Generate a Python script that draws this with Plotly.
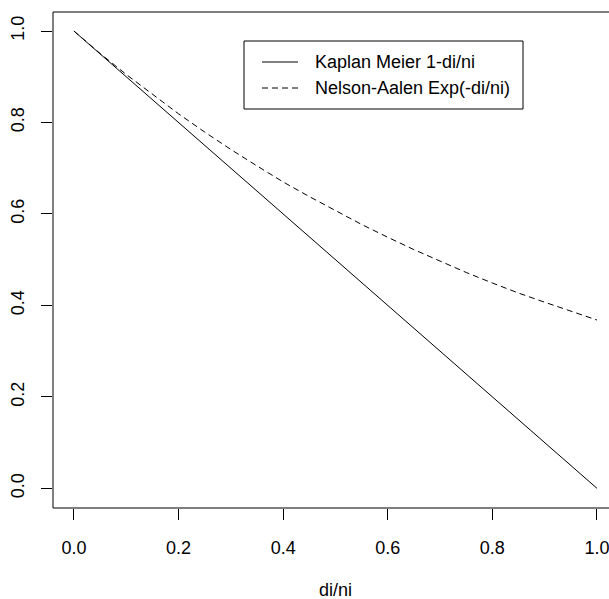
import plotly.graph_objects as go

# Proportion of deaths among those at risk
ratio = [0.00, 0.05, 0.10, 0.15, 0.20, 0.25, 0.30, 0.35, 0.40, 0.45, 0.50,
         0.55, 0.60, 0.65, 0.70, 0.75, 0.80, 0.85, 0.90, 0.95, 1.00]
# Kaplan-Meier factor 1 - di/ni
km = [1.00, 0.95, 0.90, 0.85, 0.80, 0.75, 0.70, 0.65, 0.60, 0.55, 0.50,
      0.45, 0.40, 0.35, 0.30, 0.25, 0.20, 0.15, 0.10, 0.05, 0.00]
# Nelson-Aalen factor exp(-di/ni)
na = [1.000, 0.951, 0.905, 0.861, 0.819, 0.779, 0.741, 0.705, 0.670, 0.638, 0.607,
      0.577, 0.549, 0.522, 0.497, 0.472, 0.449, 0.427, 0.407, 0.387, 0.368]
tick_vals = [0.0, 0.2, 0.4, 0.6, 0.8, 1.0]
tick_text = ["0.0", "0.2", "0.4", "0.6", "0.8", "1.0"]
legend_labels = ["Kaplan Meier 1-di/ni", "Nelson-Aalen Exp(-di/ni)"]

FONT = "Liberation Sans, Arial, sans-serif"
DASH = "6px,4px"
W, H = 609, 599
ML, MT, MB, MR = 53, 12, 91, 0

fig = go.Figure()
fig.add_trace(go.Scatter(x=ratio, y=km, mode="lines",
                         line=dict(color="black", width=1), showlegend=False))
fig.add_trace(go.Scatter(x=ratio, y=na, mode="lines",
                         line=dict(color="black", width=1, dash=DASH),
                         showlegend=False))

axis_common = dict(
    showgrid=False, zeroline=False, showline=False,
    ticks="outside", ticklen=11, tickwidth=1, tickcolor="black",
    tickfont=dict(family=FONT, size=18, color="black"),
    tickvals=tick_vals, ticktext=tick_text,
    ticklabeloverflow="allow",
)
fig.update_xaxes(range=[-0.04, (W - ML - 21.7) / 522.3], ticklabelstandoff=12,
                 **axis_common)
fig.update_yaxes(range=[-0.043, 1.0416], tickangle=-90, ticklabelstandoff=10,
                 **axis_common)

# Plot frame: left, bottom and top edges (right edge lies beyond the page)
frame = dict(type="line", xref="paper", yref="paper",
             line=dict(color="black", width=1))
shapes = [
    dict(frame, x0=0, x1=0, y0=0, y1=1),
    dict(frame, x0=0, x1=1, y0=0, y1=0),
    dict(frame, x0=0, x1=1, y0=1, y1=1),
]

# Legend box
pw = W - ML - MR
ph = H - MT - MB
def px(xp):
    return (xp - ML) / pw
def py(yp):
    return (H - MB - yp) / ph

shapes.append(dict(type="rect", xref="paper", yref="paper",
                   x0=px(244), x1=px(523), y0=py(109), y1=py(41),
                   line=dict(color="black", width=1), fillcolor="white"))
shapes.append(dict(type="line", xref="paper", yref="paper",
                   x0=px(262), x1=px(298), y0=py(62), y1=py(62),
                   line=dict(color="black", width=1)))
shapes.append(dict(type="line", xref="paper", yref="paper",
                   x0=px(262), x1=px(298), y0=py(88), y1=py(88),
                   line=dict(color="black", width=1, dash=DASH)))

annotations = []
for lbl, yy in zip(legend_labels, [62, 88]):
    annotations.append(dict(text=lbl, xref="paper", yref="paper",
                            x=px(313), y=py(yy), xanchor="left", yanchor="middle",
                            showarrow=False,
                            font=dict(family=FONT, size=18, color="black")))
annotations.append(dict(text="di/ni", xref="paper", yref="paper",
                        x=px(335), y=py(590), xanchor="center", yanchor="middle",
                        showarrow=False,
                        font=dict(family=FONT, size=18, color="black")))

fig.update_layout(
    width=W, height=H,
    margin=dict(l=ML, r=MR, t=MT, b=MB, pad=0),
    paper_bgcolor="white", plot_bgcolor="white",
    shapes=shapes, annotations=annotations,
    showlegend=False,
)

fig.write_html("out.html")
